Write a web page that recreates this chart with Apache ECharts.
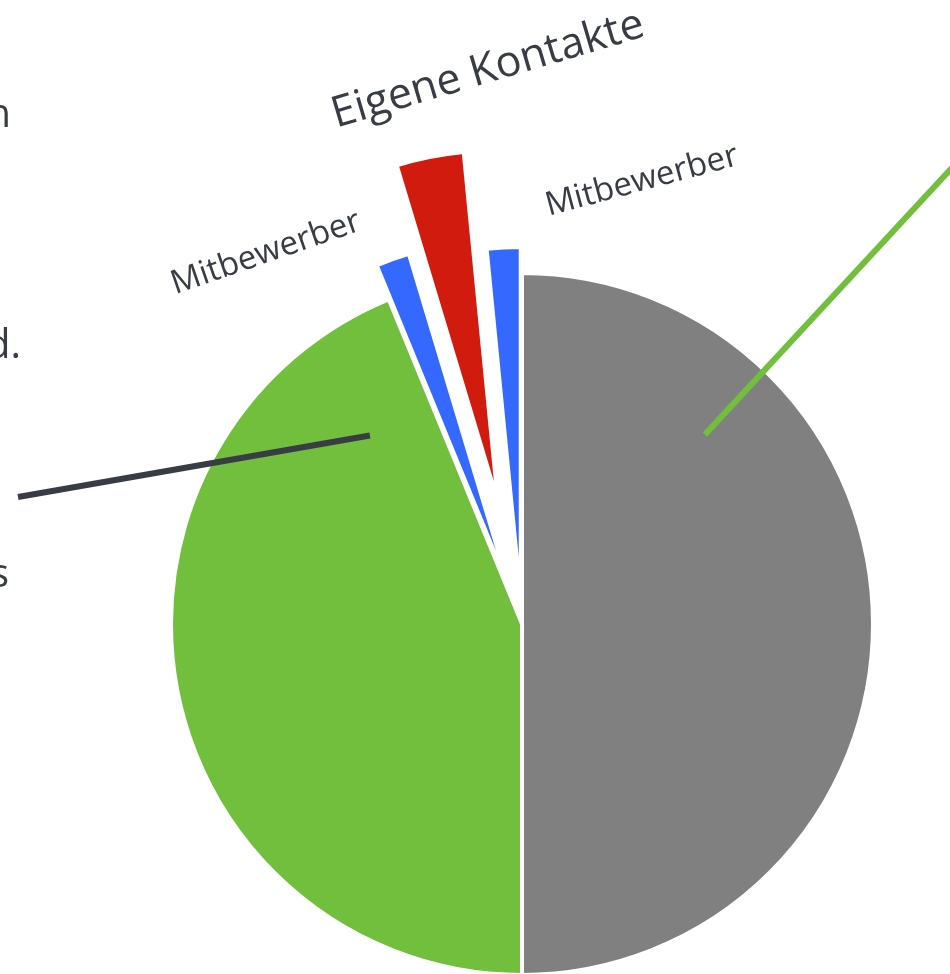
<!DOCTYPE html>
<html>
<head>
<meta charset="utf-8">
<script src="https://cdn.jsdelivr.net/npm/echarts@6/dist/echarts.min.js"></script>
<style>
html,body{margin:0;padding:0;background:#fff;overflow:hidden;}
#chart{width:950px;height:974px;}
</style>
</head>
<body>
<div id="chart"></div>
<script>
// ---- data ----
const sliceNames = ['Segment 1', 'Segment 2', 'Mitbewerber', 'Eigene Kontakte', 'Mitbewerber'];
const sliceValues = [50, 43.8, 1.55, 3.1, 1.55];
const sliceColors = ['#808080', '#72be3d', '#3468fe', '#d11b0f', '#3468fe'];
const sliceOffsets = [0, 0, 36, 125, 26];
const labelShown = [false, false, true, true, true];
const labelFontSizes = [0, 0, 33, 43, 33];
// label placement [x, y, rotation in degrees]
const labelPlaces = [null, null, [266, 253, 19], [488, 70, 16.5], [642, 181, 15]];
// partially visible outer texts at the left edge
const edgeTexts = [['n', 11, 127], ['d.', 21, 358], ['s', 9, 587]];

const CENTER = [522, 624];
const R = 351;
const TEXT_COLOR = '#383d45';
const FONT = 'Open Sans';

function makeSeries(visible, offset) {
  return {
    type: 'pie',
    center: CENTER,
    radius: R,
    startAngle: 90,
    clockwise: true,
    animation: false,
    silent: true,
    avoidLabelOverlap: false,
    selectedMode: offset > 0 ? 'multiple' : false,
    selectedOffset: offset,
    label: { show: false },
    labelLine: { show: false },
    emphasis: { disabled: true },
    data: sliceValues.map((v, i) => {
      const vis = visible.indexOf(i) >= 0;
      return {
        value: v,
        name: sliceNames[i],
        selected: offset > 0 && vis,
        itemStyle: vis
          ? { color: sliceColors[i], borderColor: '#ffffff', borderWidth: 4 }
          : { color: 'rgba(0,0,0,0)', borderWidth: 0 }
      };
    })
  };
}

const series = [];
const baseIdx = [];
sliceOffsets.forEach((o, i) => { if (o === 0) baseIdx.push(i); });
series.push(makeSeries(baseIdx, 0));
sliceOffsets.forEach((o, i) => { if (o > 0) series.push(makeSeries([i], o)); });

function polar(angleDeg, frac) {
  const a = angleDeg * Math.PI / 180;
  return [CENTER[0] + R * frac * Math.sin(a), CENTER[1] - R * frac * Math.cos(a)];
}
const grayStart = polar(44, 0.75);
const greenStart = polar(-38.9, 0.69);

const graphic = [
  { type: 'line', silent: true, z: 100, shape: { x1: grayStart[0], y1: grayStart[1], x2: grayStart[0] + 300, y2: grayStart[1] - 324 },
    style: { stroke: '#72be3d', lineWidth: 6 } },
  { type: 'line', silent: true, z: 100, shape: { x1: greenStart[0], y1: greenStart[1], x2: 18, y2: 497 },
    style: { stroke: TEXT_COLOR, lineWidth: 6 } }
];
sliceNames.forEach((name, i) => {
  if (!labelShown[i]) return;
  const L = labelPlaces[i];
  graphic.push({ type: 'text', silent: true, z: 100, x: L[0], y: L[1], rotation: L[2] * Math.PI / 180,
    style: { text: name, fill: TEXT_COLOR, font: labelFontSizes[i] + 'px "' + FONT + '"', textAlign: 'center', textVerticalAlign: 'middle' } });
});
edgeTexts.forEach(t => {
  graphic.push({ type: 'text', silent: true, z: 100, x: t[1], y: t[2] + 9,
    style: { text: t[0], fill: TEXT_COLOR, font: '40px "' + FONT + '"', textAlign: 'right', textVerticalAlign: 'bottom' } });
});

const chart = echarts.init(document.getElementById('chart'), null, { renderer: 'canvas' });
chart.setOption({
  backgroundColor: '#ffffff',
  animation: false,
  series: series,
  graphic: graphic
});
</script>
</body>
</html>
